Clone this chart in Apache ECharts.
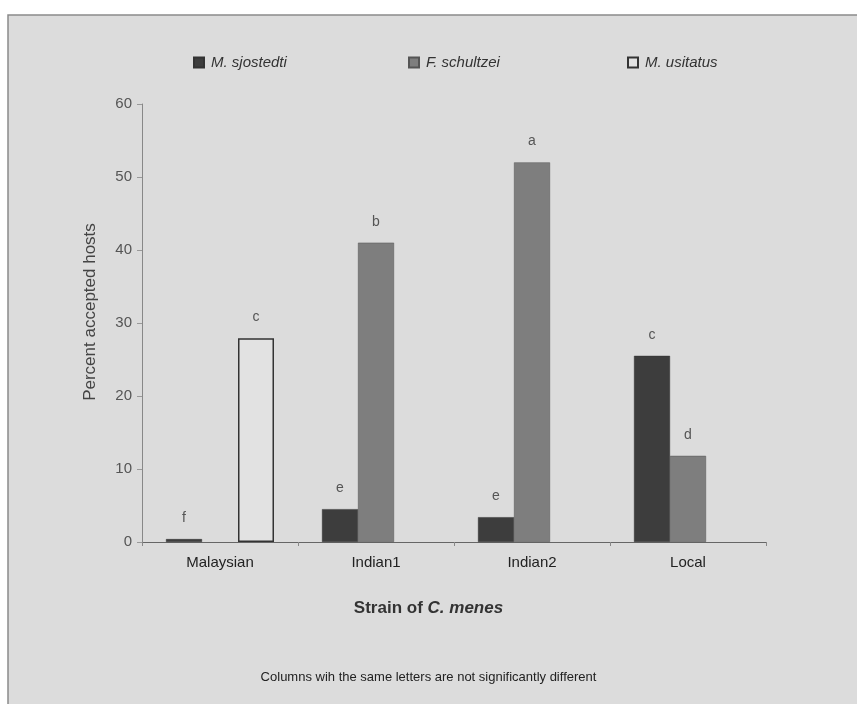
<!DOCTYPE html>
<html>
<head>
<meta charset="utf-8">
<script src="https://cdn.jsdelivr.net/npm/echarts@6/dist/echarts.min.js"></script>
<style>
  html, body { margin: 0; padding: 0; background: #fff; }
  #chart { width: 857px; height: 704px; }
</style>
</head>
<body>
<div id="chart"></div>
<script>
// data
var categories = ['Malaysian', 'Indian1', 'Indian2', 'Local'];
var sjostedti = [0.4, 4.5, 3.4, 25.5];
var schultzei = [null, 41, 52, 11.8];
var usitatus = [27.9, null, null, null];
var sjLetters = ['f', 'e', 'e', 'c'];
var scLetters = ['', 'b', 'a', 'd'];
var usLetters = ['c', '', '', ''];
var yTicks = [0, 10, 20, 30, 40, 50, 60];

var font = '"Liberation Sans", Arial, sans-serif';

function letterLabel(letters) {
  return {
    show: true,
    position: 'top',
    distance: 14,
    fontFamily: font,
    fontSize: 14,
    color: '#555',
    formatter: function (p) { return letters[p.dataIndex] || ''; }
  };
}

function legendAt(name, left) {
  return {
    data: [name],
    icon: 'rect',
    left: left,
    top: 50,
    itemWidth: 10,
    itemHeight: 10,
    itemGap: 4,
    textStyle: { fontFamily: font, fontSize: 15, fontStyle: 'italic', color: '#333', padding: [0, 0, 0, 2] }
  };
}

var myChart = echarts.init(document.getElementById('chart'));
myChart.setOption({
  animation: false,
  backgroundColor: '#fff',
  graphic: [{
    type: 'rect',
    z: -10,
    shape: { x: 8, y: 15, width: 860, height: 700 },
    style: { fill: '#dcdcdc', stroke: '#8a8a8a', lineWidth: 1.5 }
  }, {
    type: 'text',
    x: 90,
    y: 312,
    rotation: Math.PI / 2,
    style: {
      text: 'Percent accepted hosts',
      fontFamily: font,
      fontSize: 17,
      fill: '#444',
      align: 'center',
      verticalAlign: 'middle'
    }
  }],
  title: [{
    text: '{b|Strain of }{bi|C. menes}',
    left: 'center',
    top: 600,
    padding: 0,
    textStyle: {
      rich: {
        b: { fontFamily: font, fontSize: 17, fontWeight: 'bold', color: '#333' },
        bi: { fontFamily: font, fontSize: 17, fontWeight: 'bold', fontStyle: 'italic', color: '#333' }
      }
    }
  }, {
    text: 'Columns wih the same letters are not significantly different',
    left: 'center',
    top: 671,
    padding: 0,
    textStyle: { fontFamily: font, fontSize: 13, fontWeight: 'normal', color: '#222' }
  }],
  legend: [
    legendAt('M. sjostedti', 188),
    legendAt('F. schultzei', 403),
    legendAt('M. usitatus', 622)
  ],
  grid: { left: 142, right: 91, top: 104, bottom: 162 },
  xAxis: {
    type: 'category',
    data: categories,
    axisLine: { lineStyle: { color: '#666', width: 1 } },
    axisTick: { show: true, length: 4, lineStyle: { color: '#888' } },
    axisLabel: { fontFamily: font, fontSize: 15, color: '#222', margin: 13 }
  },
  yAxis: {
    type: 'value',
    min: yTicks[0],
    max: yTicks[yTicks.length - 1],
    interval: 10,
    splitLine: { show: false },
    axisLine: { show: true, lineStyle: { color: '#888', width: 1 } },
    axisTick: { show: true, length: 5, lineStyle: { color: '#999' } },
    axisLabel: { fontFamily: font, fontSize: 15, color: '#555', margin: 10 }
  },
  series: [{
    name: 'M. sjostedti',
    type: 'bar',
    data: sjostedti,
    barWidth: 36,
    barGap: '0%',
    itemStyle: { color: '#3d3d3d', borderColor: '#333', borderWidth: 0.5 },
    label: letterLabel(sjLetters)
  }, {
    name: 'F. schultzei',
    type: 'bar',
    data: schultzei,
    barWidth: 36,
    barGap: '0%',
    itemStyle: { color: '#7e7e7e', borderColor: '#555', borderWidth: 0.5 },
    label: letterLabel(scLetters)
  }, {
    name: 'M. usitatus',
    type: 'bar',
    data: usitatus,
    barWidth: 36,
    barGap: '0%',
    itemStyle: { color: '#e2e2e2', borderColor: '#333', borderWidth: 1.5 },
    label: letterLabel(usLetters)
  }]
});
</script>
</body>
</html>
